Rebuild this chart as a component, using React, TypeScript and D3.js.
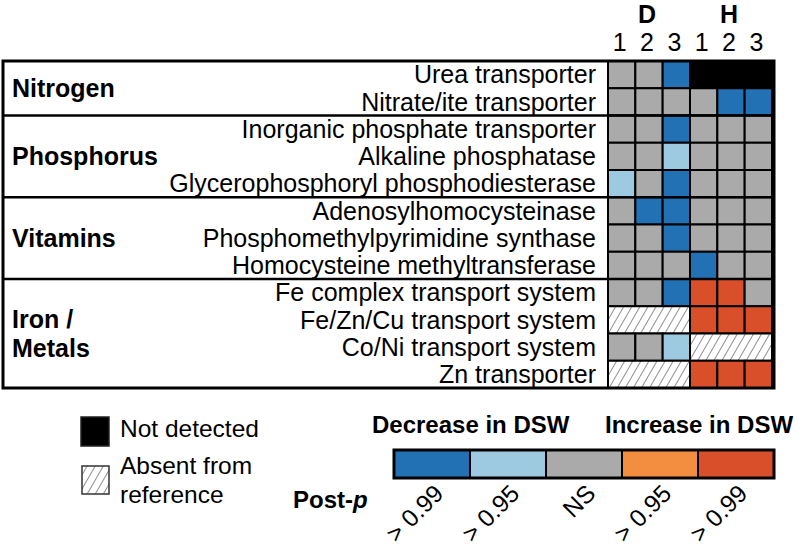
import React from "react";
import * as d3 from "d3";

const conditions = ["D", "H"];
const replicates = ["1", "2", "3", "1", "2", "3"];
const groupNames = ["Nitrogen", "Phosphorus", "Vitamins", "Iron /\nMetals"];
const groupSizes = [2, 3, 3, 4];
const genes = [
  "Urea transporter",
  "Nitrate/ite transporter",
  "Inorganic phosphate transporter",
  "Alkaline phosphatase",
  "Glycerophosphoryl phosphodiesterase",
  "Adenosylhomocysteinase",
  "Phosphomethylpyrimidine synthase",
  "Homocysteine methyltransferase",
  "Fe complex transport system",
  "Fe/Zn/Cu transport system",
  "Co/Ni transport system",
  "Zn transporter",
];
// D99 / D95 = decrease post-p >0.99 / >0.95, NS, I95 / I99 increase, ND = not detected, AB = absent from reference
const cellCodes = [
  ["NS", "NS", "D99", "ND", "ND", "ND"],
  ["NS", "NS", "NS", "NS", "D99", "D99"],
  ["NS", "NS", "D99", "NS", "NS", "NS"],
  ["NS", "NS", "D95", "NS", "NS", "NS"],
  ["D95", "NS", "D99", "NS", "NS", "NS"],
  ["NS", "D99", "D99", "NS", "NS", "NS"],
  ["NS", "NS", "D99", "NS", "NS", "NS"],
  ["NS", "NS", "NS", "D99", "NS", "NS"],
  ["NS", "NS", "D99", "I99", "I99", "NS"],
  ["AB", "AB", "AB", "I99", "I99", "I99"],
  ["NS", "NS", "D95", "AB", "AB", "AB"],
  ["AB", "AB", "AB", "I99", "I99", "I99"],
];
const scaleCodes = ["D99", "D95", "NS", "I95", "I99"];
const scaleLabels = ["> 0.99", "> 0.95", "NS", "> 0.95", "> 0.99"];
const scaleColors = ["#2271b5", "#9ecae1", "#aaaaaa", "#f38d40", "#d94f2a"];

const FONT = "'Liberation Sans', Arial, Helvetica, sans-serif";

export default function App() {
  const color = d3.scaleOrdinal<string, string>().domain([...scaleCodes, "ND"]).range([...scaleColors, "#000000"]);
  const x = d3.scaleBand<number>().domain(d3.range(replicates.length)).range([608, 772]);
  const y = d3.scaleBand<number>().domain(d3.range(genes.length)).range([61, 388]);
  const boxL = 3, boxR = 774, boxT = 61, boxB = 388;

  // merge consecutive ND / AB cells into one span
  const cells: { r: number; c0: number; c1: number; code: string }[] = [];
  cellCodes.forEach((row, r) => {
    let c = 0;
    while (c < row.length) {
      const code = row[c];
      let e = c;
      if (code === "ND" || code === "AB") {
        while (e + 1 < row.length && row[e + 1] === code) e++;
      }
      cells.push({ r, c0: c, c1: e, code });
      c = e + 1;
    }
  });

  const groupStarts = groupSizes.map((_, i) => d3.sum(groupSizes.slice(0, i)));
  const sx = d3.scaleBand<number>().domain(d3.range(scaleCodes.length)).range([394, 774]);

  return (
    <svg width={799} height={555} style={{ position: "absolute", left: 0, top: 0, fontFamily: FONT }}>
      <defs>
        <pattern id="hatch" patternUnits="userSpaceOnUse" width={7} height={7} patternTransform="rotate(30)">
          <rect width={7} height={7} fill="#fff" />
          <line x1={0} y1={0} x2={0} y2={7} stroke="#333" strokeWidth={1.1} />
        </pattern>
      </defs>

      {/* header */}
      {conditions.map((cnd, i) => (
        <text key={cnd} x={(x(i * 3)! + x(i * 3 + 2)! + x.bandwidth()) / 2 - 2} y={23} fontSize={25} fontWeight="bold" textAnchor="middle">
          {cnd}
        </text>
      ))}
      {replicates.map((r, i) => (
        <text key={i} x={x(i)! + x.bandwidth() / 2 - 2} y={51} fontSize={25} textAnchor="middle">
          {r}
        </text>
      ))}

      {/* cells */}
      {cells.map((cl, i) => (
        <rect
          key={i}
          x={x(cl.c0)!}
          y={y(cl.r)!}
          width={x(cl.c1)! + x.bandwidth() - x(cl.c0)!}
          height={y.bandwidth()}
          fill={cl.code === "AB" ? "url(#hatch)" : color(cl.code)}
          stroke="#000"
          strokeWidth={2}
        />
      ))}

      {/* gene labels */}
      {genes.map((g, i) => (
        <text key={g} x={596} y={y(i)! + y.bandwidth() / 2 + 8.7} fontSize={25} textAnchor="end">
          {g}
        </text>
      ))}

      {/* groups */}
      {groupNames.map((gname, i) => {
        const top = y(groupStarts[i])!;
        const bot = y(groupStarts[i] + groupSizes[i] - 1)! + y.bandwidth();
        const cy = (top + bot) / 2 + 8.7;
        const lines = gname.split("\n");
        return (
          <g key={gname}>
            {lines.map((ln, j) => (
              <text key={j} x={12} y={cy + (j - (lines.length - 1) / 2) * 29.4} fontSize={25} fontWeight="bold">
                {ln}
              </text>
            ))}
            {i > 0 && <line x1={boxL} x2={boxR} y1={top} y2={top} stroke="#000" strokeWidth={2.5} />}
          </g>
        );
      })}
      <line x1={608} x2={608} y1={boxT} y2={boxB} stroke="#000" strokeWidth={2} />
      <rect x={boxL} y={boxT} width={boxR - boxL} height={boxB - boxT} fill="none" stroke="#000" strokeWidth={3} />

      {/* legend: not detected / absent */}
      <rect x={81} y={417} width={28} height={29} fill="#000" stroke="#222" strokeWidth={1.5} />
      <text x={120} y={437} fontSize={24.5}>Not detected</text>
      <rect x={82} y={466} width={27} height={28} fill="url(#hatch)" stroke="#333" strokeWidth={1.5} />
      <text x={120} y={474} fontSize={24.5}>Absent from</text>
      <text x={120} y={503} fontSize={24.5}>reference</text>

      {/* colour scale */}
      <text x={372} y={433} fontSize={24} fontWeight="bold">Decrease in DSW</text>
      <text x={605} y={433} fontSize={24} fontWeight="bold">Increase in DSW</text>
      {scaleCodes.map((c, i) => (
        <rect key={c} x={sx(i)!} y={450} width={sx.bandwidth()} height={28} fill={color(c)} stroke="#000" strokeWidth={2} />
      ))}
      <rect x={394} y={450} width={380} height={28} fill="none" stroke="#000" strokeWidth={3} />
      {scaleLabels.map((l, i) => {
        const ex = sx(i)! + sx.bandwidth() / 2 + 13;
        const ey = 495;
        return (
          <text key={i} x={ex} y={ey} fontSize={24.5} textAnchor="end" transform={`rotate(-45 ${ex} ${ey})`}>
            {l}
          </text>
        );
      })}
      <text x={293} y={508} fontSize={24} fontWeight="bold">
        Post-<tspan fontStyle="italic">p</tspan>
      </text>
    </svg>
  );
}
